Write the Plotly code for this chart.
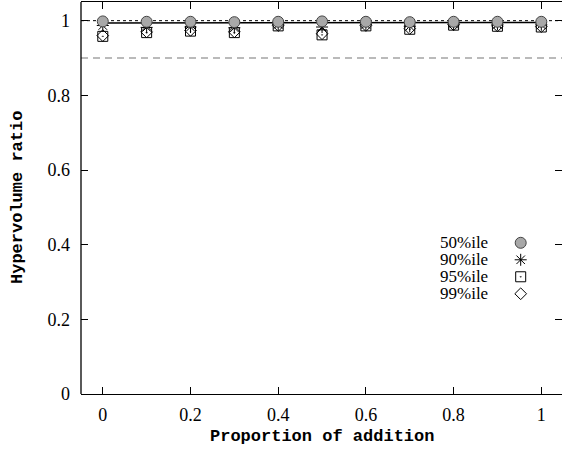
import plotly.graph_objects as go

# ---- data ----
proportion = [0.0, 0.1, 0.2, 0.3, 0.4, 0.5, 0.6, 0.7, 0.8, 0.9, 1.0]
mean_ratio = [0.994, 0.994, 0.994, 0.994, 0.995, 0.995, 0.995, 0.995, 0.995, 0.995, 0.995]
p50 = [0.998, 0.997, 0.997, 0.996, 0.997, 0.998, 0.997, 0.996, 0.997, 0.997, 0.997]
p90 = [0.987, 0.982, 0.983, 0.981, 0.990, 0.983, 0.990, 0.985, 0.991, 0.990, 0.989]
p95 = [0.958, 0.968, 0.972, 0.968, 0.986, 0.962, 0.986, 0.977, 0.988, 0.985, 0.983]
p99 = [0.960, 0.970, 0.974, 0.970, 0.987, 0.965, 0.987, 0.979, 0.989, 0.986, 0.984]
ref_upper = 1.0
ref_lower = 0.9
series_names = ["50%ile", "90%ile", "95%ile", "99%ile"]
x_ticks = [0, 0.2, 0.4, 0.6, 0.8, 1]
y_ticks = [0, 0.2, 0.4, 0.6, 0.8, 1]

serif = "Liberation Serif, Times New Roman, serif"
mono = "Liberation Mono, Courier New, monospace"

styles = {
    "50%ile": dict(symbol="circle", size=11, color="#a8a8a8", line=dict(color="#444444", width=1)),
    "90%ile": dict(symbol="asterisk-open", size=10, color="#000000", line=dict(color="#000000", width=1)),
    "95%ile": dict(symbol="square-open-dot", size=10, color="#000000", line=dict(color="#000000", width=1)),
    "99%ile": dict(symbol="diamond-open", size=9, color="#000000", line=dict(color="#000000", width=1)),
}
values = {"50%ile": p50, "90%ile": p90, "95%ile": p95, "99%ile": p99}

xr = [-0.0497, 1.0472]
fig = go.Figure()

# reference lines
fig.add_trace(go.Scatter(x=xr, y=[ref_lower, ref_lower], mode="lines",
                         line=dict(color="#777777", width=1.2, dash="7px,5px"),
                         showlegend=False, hoverinfo="skip"))
fig.add_trace(go.Scatter(x=xr, y=[ref_upper, ref_upper], mode="lines",
                         line=dict(color="#000000", width=1, dash="3px,3px"),
                         showlegend=False, hoverinfo="skip"))
fig.add_trace(go.Scatter(x=proportion, y=mean_ratio, mode="lines",
                         line=dict(color="#000000", width=1.5),
                         showlegend=False, hoverinfo="skip"))

for name in ["99%ile", "95%ile", "90%ile", "50%ile"]:
    fig.add_trace(go.Scatter(x=proportion, y=values[name], mode="markers",
                             marker=styles[name], name=name, showlegend=False))

# manual key (text left, symbol right)
key_x_sym = 0.953
key_x_txt = 0.882
key_top = 0.405
key_step = 0.0455
for i, name in enumerate(series_names):
    yk = key_top - i * key_step
    fig.add_trace(go.Scatter(x=[key_x_sym], y=[yk], mode="markers",
                             marker=styles[name], showlegend=False, hoverinfo="skip"))
    fig.add_annotation(x=key_x_txt, y=yk, xref="x", yref="y", text=name,
                       showarrow=False, xanchor="right", yanchor="middle",
                       font=dict(family=serif, size=17, color="#000000"))

# axis titles
fig.add_annotation(x=0.5, y=-0.108, xref="paper", yref="paper",
                   text="<b>Proportion of addition</b>", showarrow=False,
                   xanchor="center", yanchor="middle",
                   font=dict(family=mono, size=17, color="#000000"))
fig.add_annotation(x=-0.133, y=0.5, xref="paper", yref="paper",
                   text="<b>Hypervolume ratio</b>", showarrow=False, textangle=-90,
                   xanchor="center", yanchor="middle",
                   font=dict(family=mono, size=17, color="#000000"))

# left frame line
fig.add_shape(type="line", xref="paper", yref="paper", x0=0, x1=0, y0=0, y1=1,
              line=dict(color="#000000", width=1.3))

fig.update_layout(
    width=562, height=452,
    margin=dict(l=81, r=0, t=2, b=58, autoexpand=False),
    paper_bgcolor="white", plot_bgcolor="white",
    showlegend=False,
    xaxis=dict(range=xr, tickvals=x_ticks, ticktext=[f"{v:g}" for v in x_ticks],
               ticks="inside", ticklen=7, tickcolor="#000", tickwidth=1,
               showline=True, linecolor="#000", linewidth=1.3, mirror="ticks",
               showgrid=False, zeroline=False, ticklabelstandoff=4, automargin=False,
               tickfont=dict(family=serif, size=18, color="#000")),
    yaxis=dict(range=[0, 1.05], tickvals=y_ticks, ticktext=[f"{v:g}" for v in y_ticks],
               ticks="inside", ticklen=7, tickcolor="#000", tickwidth=1,
               showline=False, mirror="ticks",
               showgrid=False, zeroline=False, ticklabelstandoff=10, automargin=False,
               tickfont=dict(family=serif, size=18, color="#000")),
)

fig.write_html("out.html", config={"displayModeBar": False},
               post_script="document.body.style.margin='0';document.body.style.overflow='hidden';")
